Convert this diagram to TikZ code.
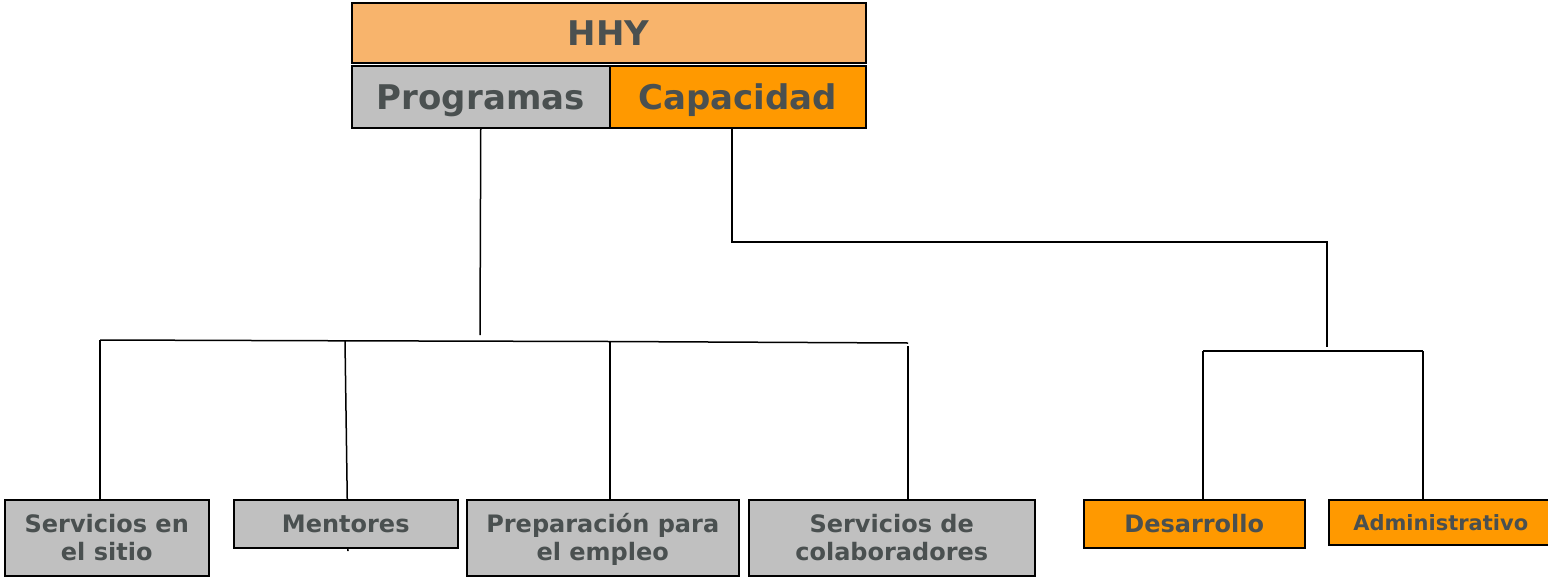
\documentclass[tikz,border=0pt]{standalone}
\usepackage{fontspec}
\setmainfont{DejaVu Sans}
\usetikzlibrary{positioning}
\definecolor{hhyorange}{RGB}{248,180,108}
\definecolor{caporange}{RGB}{255,153,0}
\definecolor{boxgray}{RGB}{192,192,192}
\definecolor{txtgray}{RGB}{74,80,80}

\begin{document}
\begin{tikzpicture}[x=1pt,y=-1pt,
    box/.style={draw,line width=1.5pt,text=txtgray,align=center,inner sep=0pt,anchor=north west,
      font=\bfseries\fontsize{24}{28}\selectfont},
    head/.style={box,font=\bfseries\fontsize{34}{40}\selectfont,text height=25pt,text depth=0pt},
    link/.style={line width=1.5pt}]
    \useasboundingbox (0,0) rectangle (1548,576);

    % junctions
    \coordinate (progjoin) at (480,335);
    \coordinate (j1) at (100,340);
    \coordinate (j2) at (345,340.8);
    \coordinate (j3) at (610,341.5);
    \coordinate (j4) at (908,343);
    \coordinate (capturn) at (732,242);
    \coordinate (rightturn) at (1327,242);
    \coordinate (capjoin) at (1327,347);
    \coordinate (r1) at (1203,351);
    \coordinate (r2) at (1423,351);

    % line behind Mentores
    \draw[link] (j2) -- (348,551);

    \node[head,fill=hhyorange,minimum width=514pt,minimum height=60pt] (hhy) at (351,2) {HHY};
    \node[head,fill=boxgray,minimum width=258pt,minimum height=62pt] (prog) at (351,65) {Programas};
    \node[head,fill=caporange,minimum width=256pt,minimum height=62pt] (cap) at (609,65) {Capacidad};

    \node[box,fill=boxgray,minimum width=204pt,minimum height=76pt] (sitio) at (4,499) {Servicios en\\el sitio};
    \node[box,fill=boxgray,minimum width=224pt,minimum height=48pt] (mentores) at (233,499) {Mentores};
    \node[box,fill=boxgray,minimum width=272pt,minimum height=76pt,text depth=0pt] (empleo) at (466,499) {Preparaci\smash{ó}n para\\el empleo};
    \node[box,fill=boxgray,minimum width=286pt,minimum height=76pt] (colab) at (748,499) {Servicios de\\colaboradores};
    \node[box,fill=caporange,minimum width=221pt,minimum height=48pt] (desarrollo) at (1083,499) {Desarrollo};
    \node[box,fill=caporange,minimum width=224pt,minimum height=45pt,
      font=\bfseries\fontsize{21}{25}\selectfont] (admin) at (1328,499) {Administrativo};

    % Programas branch
    \draw[link] (prog.south) -- (progjoin);
    \draw[link] (j1) -- (j2) -- (j3) -- (j4);
    \draw[link] (j1) -- (j1 |- sitio.north);
    \draw[link] (j3) -- (j3 |- empleo.north);
    \draw[link] ([yshift=-3pt]j4) -- (j4 |- colab.north);

    % Capacidad branch
    \draw[link] (cap.south -| capturn) -- (capturn) -- (rightturn) -- (capjoin);
    \draw[link] (r1) -- (r2);
    \draw[link] (r1) -- (r1 |- desarrollo.north);
    \draw[link] (r2) -- (r2 |- admin.north);
\end{tikzpicture}
\end{document}
